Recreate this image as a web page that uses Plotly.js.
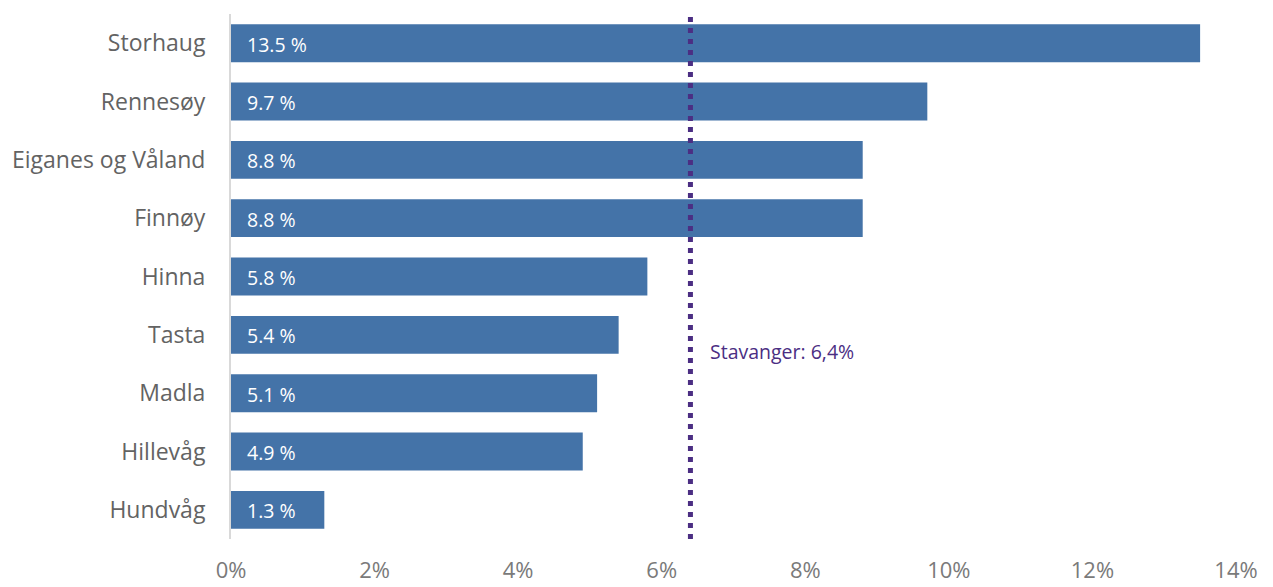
<!DOCTYPE html>
<html>
<head>
<meta charset="utf-8">
<script src="https://cdn.plot.ly/plotly-3.0.1.min.js"></script>
<style>html,body{margin:0;padding:0;background:#fff;}#chart{width:1273px;height:587px;}</style>
</head>
<body>
<div id="chart"></div>
<script>
const categories = ["Storhaug","Rennesøy","Eiganes og Våland","Finnøy","Hinna","Tasta","Madla","Hillevåg","Hundvåg"];
const values = [13.5, 9.7, 8.8, 8.8, 5.8, 5.4, 5.1, 4.9, 1.3];
const barLabels = ["13.5 %","9.7 %","8.8 %","8.8 %","5.8 %","5.4 %","5.1 %","4.9 %","1.3 %"];
const referenceValue = 6.4;
const referenceLabel = "Stavanger: 6,4%";
const xTickVals = [0,2,4,6,8,10,12,14];
const xTickText = ["0%","2%","4%","6%","8%","10%","12%","14%"];

const font = "'Open Sans', 'Noto Sans', sans-serif";

const trace = {
  type: "bar",
  orientation: "h",
  y: categories,
  x: values,
  marker: {color: "#4473a8"},
  hoverinfo: "none"
};

const annotations = categories.map((c, i) => ({
  x: 0, y: c, xref: "x", yref: "y",
  text: barLabels[i], showarrow: false,
  xanchor: "left", yanchor: "middle", xshift: 14, yshift: -1,
  font: {family: font, size: 19.5, color: "#ffffff"}
}));
annotations.push({
  x: referenceValue, y: 0.358, xref: "x", yref: "paper",
  text: referenceLabel, showarrow: false,
  xanchor: "left", yanchor: "middle", xshift: 18,
  font: {family: font, size: 19.5, color: "#4b2e83"}
});

const layout = {
  width: 1273, height: 587,
  margin: {l: 231, r: 37, t: 14, b: 48},
  paper_bgcolor: "#ffffff", plot_bgcolor: "#ffffff",
  showlegend: false,
  bargap: 0.35,
  font: {family: font},
  xaxis: {
    range: [0, 14],
    tickvals: xTickVals, ticktext: xTickText,
    showgrid: false, zeroline: false, showline: false,
    ticks: "", ticklabelstandoff: 16,
    tickfont: {family: font, size: 22, color: "#7a7a7a"}
  },
  yaxis: {
    autorange: "reversed",
    showgrid: false, zeroline: false,
    showline: true, linecolor: "#d9d9d9", linewidth: 2,
    ticks: "", ticklabelstandoff: 19,
    tickfont: {family: font, size: 23, color: "#636363"}
  },
  shapes: [{
    type: "line", xref: "x", yref: "paper",
    x0: referenceValue, x1: referenceValue, y0: 0, y1: 1,
    layer: "above",
    line: {color: "#4b2e83", width: 5, dash: "5px,6px"}
  }],
  annotations: annotations
};

Plotly.newPlot("chart", [trace], layout, {displayModeBar: false, staticPlot: true});
</script>
</body>
</html>
